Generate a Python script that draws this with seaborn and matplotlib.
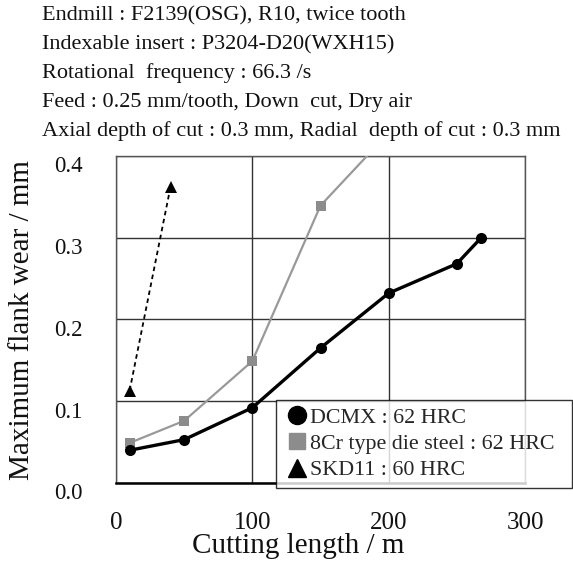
import matplotlib
matplotlib.use("Agg")
import matplotlib.pyplot as plt
import matplotlib.transforms as mtransforms
from matplotlib.lines import Line2D
import seaborn as sns
import pandas as pd

# ---- data ----
dcmx_x = [10, 50, 100, 150, 200, 250, 268]
dcmx_y = [0.040, 0.053, 0.092, 0.165, 0.232, 0.268, 0.300]
cr8_x = [10, 50, 100, 150, 200]
cr8_y = [0.049, 0.076, 0.149, 0.339, 0.428]
skd_x = [10, 40]
skd_y = [0.113, 0.362]
labels = ["DCMX : 62 HRC", "8Cr type die steel : 62 HRC", "SKD11 : 60 HRC"]
header = [
    "Endmill : F2139(OSG), R10, twice tooth",
    "Indexable insert : P3204-D20(WXH15)",
    "Rotational  frequency : 66.3 /s",
    "Feed : 0.25 mm/tooth, Down  cut, Dry air",
    "Axial depth of cut : 0.3 mm, Radial  depth of cut : 0.3 mm",
]
xticks = [0, 100, 200, 300]
yticks = [0.0, 0.1, 0.2, 0.3, 0.4]

sns.set_style("white")
plt.rcParams["font.family"] = ["Liberation Serif", "DejaVu Serif"]

fig = plt.figure(figsize=(5.73, 5.68), dpi=100)
ax = fig.add_axes([116 / 573, 1 - 483 / 568, (525 - 116) / 573, (483 - 155.7) / 568])

gray = "#999999"
df1 = pd.DataFrame({"x": dcmx_x, "y": dcmx_y})
df2 = pd.DataFrame({"x": cr8_x, "y": cr8_y})
df3 = pd.DataFrame({"x": skd_x, "y": skd_y})

sns.lineplot(data=df3, x="x", y="y", ax=ax, color="black", lw=1.3,
             linestyle=(0, (2.5, 2)), marker="^", markersize=9, markeredgewidth=0,
             zorder=3)
sns.lineplot(data=df2, x="x", y="y", ax=ax, color=gray, lw=1.6,
             marker="s", markersize=7.5, markeredgewidth=0, markerfacecolor="#8c8c8c",
             zorder=4)
sns.lineplot(data=df1, x="x", y="y", ax=ax, color="black", lw=2.4,
             marker="o", markersize=8, markeredgewidth=0, zorder=5)

ax.set_xlim(0, 300)
ax.set_ylim(0, 0.4)
ax.set_xticks(xticks)
ax.set_yticks(yticks)
ax.set_xticklabels([str(v) for v in xticks])
ax.set_yticklabels([f"{v:.1f}" for v in yticks])
ax.grid(True, color="#333333", lw=1.0)
ax.set_axisbelow(True)
for s in ["top", "left", "right"]:
    ax.spines[s].set_color("#555555")
    ax.spines[s].set_linewidth(1.0)
ax.spines["bottom"].set_color("black")
ax.spines["bottom"].set_linewidth(1.8)

ax.tick_params(axis="both", length=0, colors="#111111")
ax.tick_params(axis="x", pad=21, labelsize=18)
ax.tick_params(axis="y", pad=24, labelsize=16.5)
off = mtransforms.ScaledTranslation(0, -6 / 72, fig.dpi_scale_trans)
for t in ax.get_yticklabels():
    t.set_transform(t.get_transform() + off)

ax.set_xlabel("Cutting length / m", fontsize=21, color="#111111")
ax.set_ylabel("Maximum flank wear / mm", fontsize=21, color="#111111")
ax.xaxis.set_label_coords((298 - 116) / 409, (483 - 546) / 327.3)
ax.xaxis.label.set_va("center")
ax.yaxis.set_label_coords((22 - 116) / 409, (483 - 320) / 327.3)
ax.yaxis.label.set_va("center")

handles = [
    Line2D([], [], color="black", marker="o", linestyle="none", markersize=13),
    Line2D([], [], color="#8c8c8c", marker="s", linestyle="none", markersize=12),
    Line2D([], [], color="black", marker="^", linestyle="none", markersize=13),
]
leg = fig.legend(handles, labels, loc="lower left",
                 bbox_to_anchor=(276 / 573, 1 - 488 / 568, (572 - 276) / 573, 87 / 568),
                 mode="expand", fontsize=15.8, frameon=True, fancybox=False,
                 handletextpad=0.0, handlelength=1.2, labelspacing=0.27,
                 borderpad=0.35, borderaxespad=0)
leg.get_frame().set_edgecolor("black")
leg.get_frame().set_linewidth(1.0)
leg.set_zorder(10)

for i, line in enumerate(header):
    fig.text(42 / 573, 1 - (20 + 29 * i) / 568, line, fontsize=16,
             va="baseline", ha="left", color="#111111")

fig.savefig("out.png", dpi=100)
